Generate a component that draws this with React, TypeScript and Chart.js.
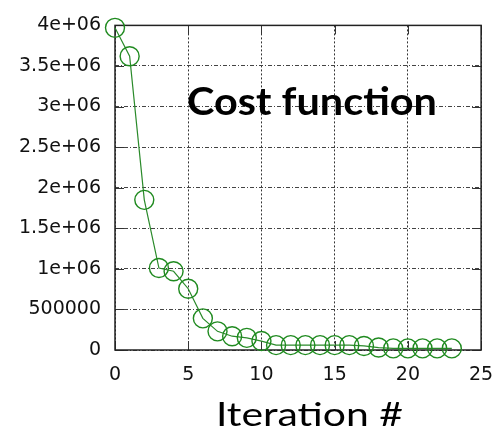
import React, { useEffect, useRef } from "react";
import { Chart, registerables } from "chart.js";

Chart.register(...registerables);

const iterations = [0, 1, 2, 3, 4, 5, 6, 7, 8, 9, 10, 11, 12, 13, 14, 15, 16, 17, 18, 19, 20, 21, 22, 23];
const cost = [
  3970000, 3620000, 1850000, 1010000, 970000, 755000, 390000, 230000, 170000, 150000, 110000, 60000,
  60000, 60000, 60000, 60000, 60000, 50000, 30000, 20000, 20000, 20000, 20000, 20000,
];
const xTicks = [0, 5, 10, 15, 20, 25];
const yTickLabels = ["0", "500000", "1e+06", "1.5e+06", "2e+06", "2.5e+06", "3e+06", "3.5e+06", "4e+06"];
const titleText = "Cost function";
const xTitleText = "Iteration #";

const frame = {
  id: "frame",
  beforeDatasetsDraw(chart: any) {
    const { ctx, chartArea } = chart;
    const { left, right, top, bottom } = chartArea;
    const xs = chart.scales.x;
    const ys = chart.scales.y;
    ctx.save();
    ctx.strokeStyle = "#333";
    ctx.lineWidth = 1;
    ctx.setLineDash([]);
    ctx.beginPath();
    const tl = 9;
    xs.ticks.forEach((t: any) => {
      const px = Math.round(xs.getPixelForValue(t.value)) + 0.5;
      ctx.moveTo(px, bottom);
      ctx.lineTo(px, bottom - tl);
      ctx.moveTo(px, top);
      ctx.lineTo(px, top + tl);
    });
    ys.ticks.forEach((t: any) => {
      const py = Math.round(ys.getPixelForValue(t.value)) + 0.5;
      ctx.moveTo(left, py);
      ctx.lineTo(left + tl, py);
      ctx.moveTo(right, py);
      ctx.lineTo(right - tl, py);
    });
    ctx.stroke();
    ctx.lineWidth = 1.5;
    ctx.strokeStyle = "#222";
    ctx.strokeRect(left, top, right - left, bottom - top);
    ctx.restore();
  },
  afterDraw(chart: any) {
    const { ctx } = chart;
    const drawFit = (text: string, font: string, x: number, y: number, width: number) => {
      ctx.save();
      ctx.font = font;
      ctx.fillStyle = "#000";
      ctx.textAlign = "left";
      ctx.textBaseline = "alphabetic";
      const w = ctx.measureText(text).width;
      ctx.translate(x, y);
      ctx.scale(width / w, 1);
      ctx.fillText(text, 0, 0);
      ctx.restore();
    };
    drawFit(titleText, "bold 39px Lato", 187, 115, 250);
    drawFit(xTitleText, "33px Lato", 216, 426, 187);
  },
};

export default function App() {
  const ref = useRef<HTMLCanvasElement | null>(null);
  useEffect(() => {
    document.body.style.margin = "0";
    const canvas = ref.current!;
    const chart = new Chart(canvas, {
      type: "line",
      data: {
        datasets: [
          {
            data: iterations.map((x, i) => ({ x, y: cost[i] })),
            borderColor: "#2a8a2a",
            borderWidth: 1.2,
            pointRadius: 9.5,
            pointBorderWidth: 1.4,
            pointBorderColor: "#1f8a1f",
            pointBackgroundColor: "rgba(0,0,0,0)",
            fill: false,
            tension: 0,
            clip: false,
          } as any,
        ],
      },
      plugins: [frame],
      options: {
        responsive: false,
        animation: false,
        layout: { padding: { top: 22, left: 0, right: 0, bottom: 0 } },
        plugins: { legend: { display: false }, tooltip: { enabled: false }, title: { display: false } },
        scales: {
          x: {
            type: "linear",
            min: 0,
            max: 25,
            afterBuildTicks: (s: any) => {
              s.ticks = xTicks.map((v) => ({ value: v }));
            },
            afterFit: (s: any) => {
              s.height = 80;
              s.paddingRight = 7;
              s.paddingLeft = 0;
            },
            grid: { color: "#333", lineWidth: 1, drawTicks: false },
            border: { display: false, dash: [2, 2] },
            ticks: {
              padding: 14,
              color: "#111",
              font: { family: "DejaVu Sans", size: 19 },
              maxRotation: 0,
              autoSkip: false,
            },
          },
          y: {
            type: "linear",
            min: 0,
            max: 4000000,
            afterBuildTicks: (s: any) => {
              s.ticks = yTickLabels.map((_, i) => ({ value: i * 500000 }));
            },
            afterFit: (s: any) => {
              s.width = 115;
            },
            grid: { color: "#444", lineWidth: 1, drawTicks: false },
            border: { display: false, dash: [4, 2, 1, 2] },
            ticks: {
              padding: 14,
              color: "#111",
              font: { family: "DejaVu Sans", size: 19 },
              autoSkip: false,
              callback: (_v: any, i: number) => yTickLabels[i],
            },
          },
        },
      },
    });
    return () => chart.destroy();
  }, []);
  return (
    <div style={{ width: 492, height: 430 }}>
      <canvas ref={ref} width={492} height={430} style={{ width: 492, height: 430 }} />
    </div>
  );
}
